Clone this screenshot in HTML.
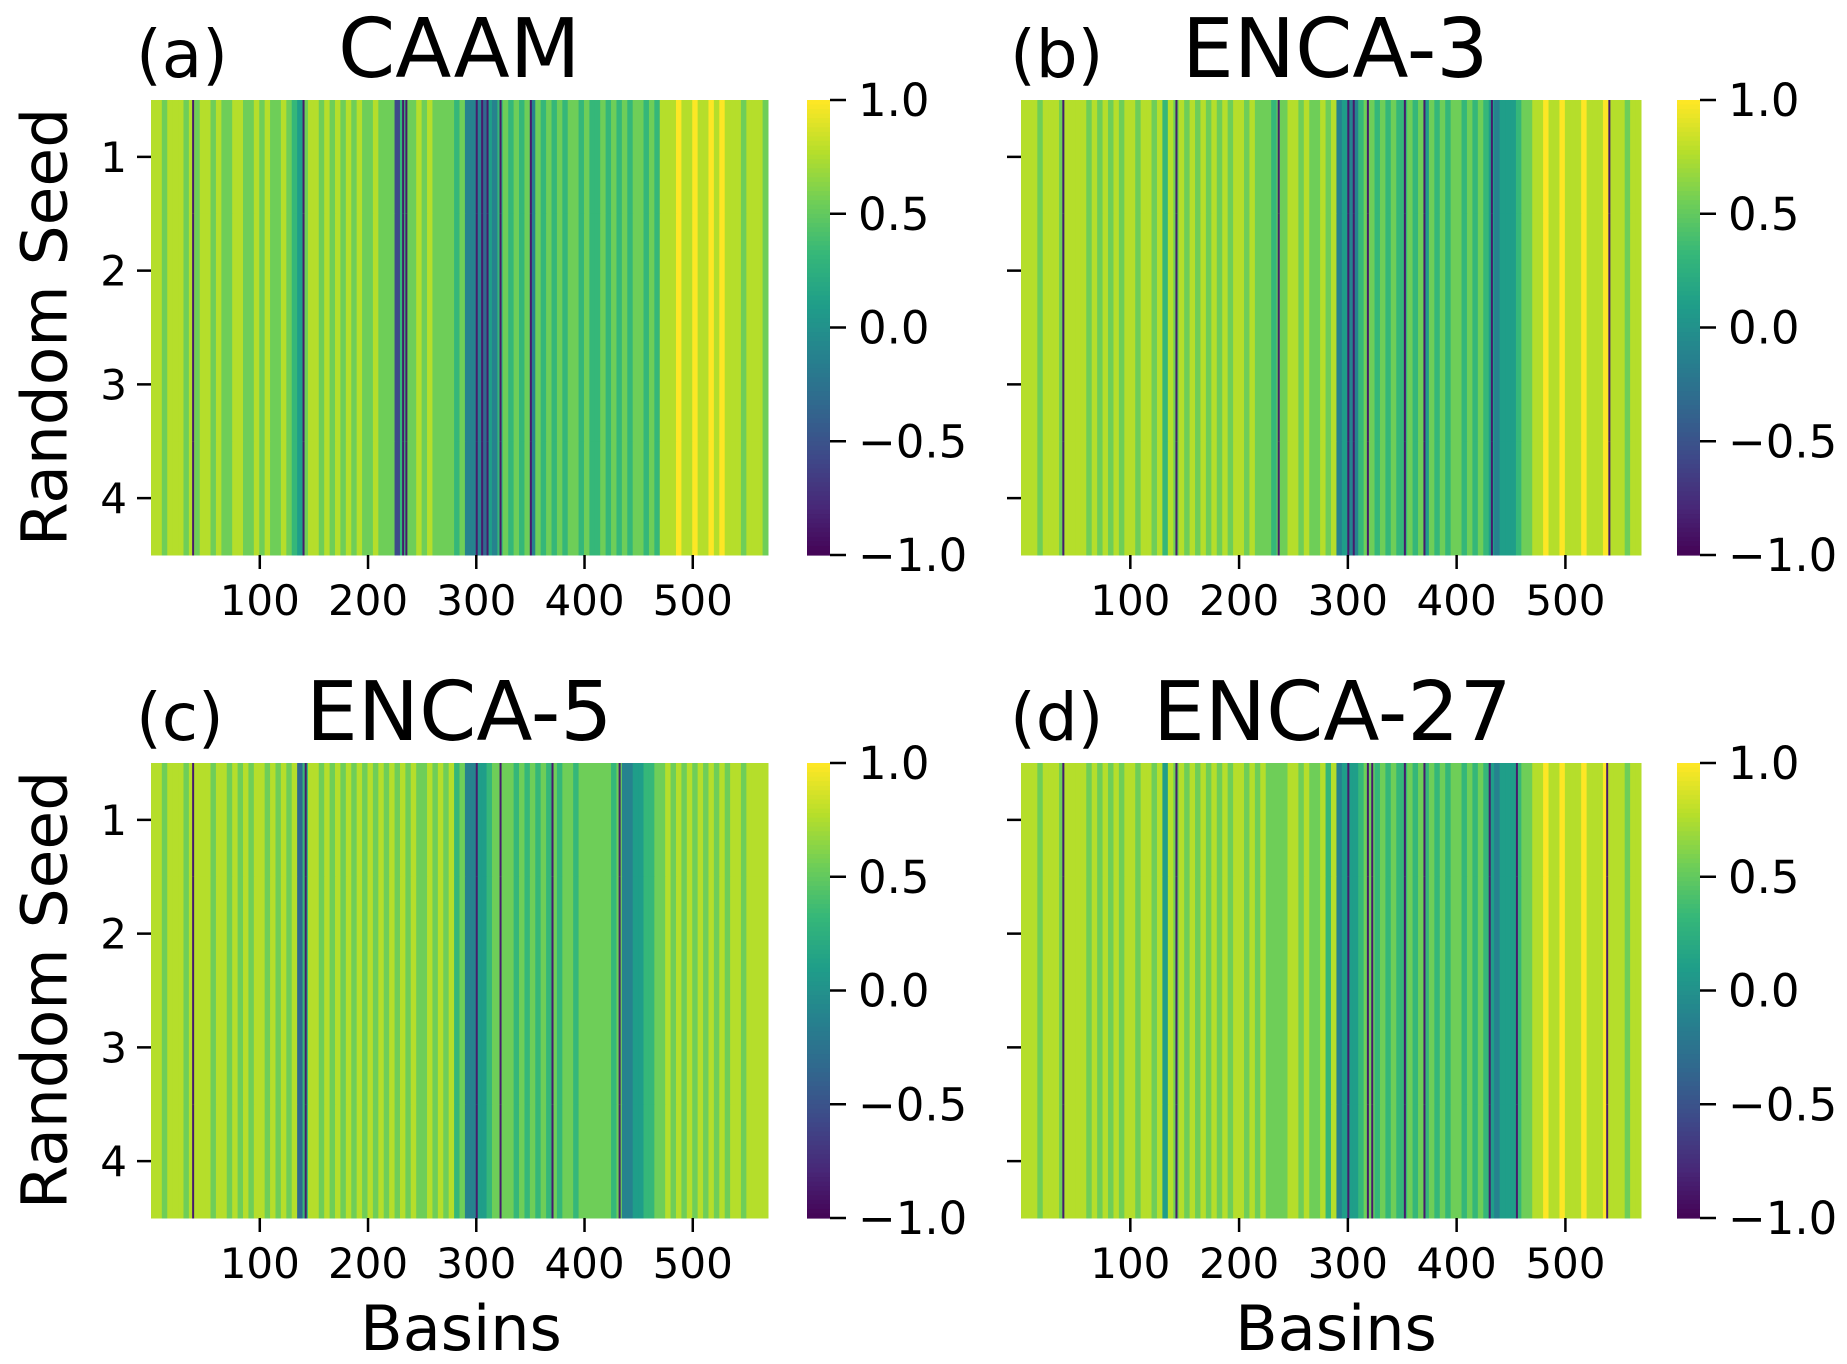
<!DOCTYPE html>
<html><head><meta charset="utf-8"><style>
body{margin:0;background:#fff;}
svg text{font-family:"DejaVu Sans","Liberation Sans",sans-serif;fill:#000;}
</style></head><body>
<svg id="fig" width="1847" height="1359" viewBox="0 0 1847 1359" xmlns="http://www.w3.org/2000/svg"></svg>
<script>
// Data: per panel, values for 5-basin blocks ('0'..'9' maps to -1..1), plus dark line basins
const panelNames = ["(a)","(b)","(c)","(d)"];
const panelTitles = ["CAAM","ENCA-3","ENCA-5","ENCA-27"];
const blockA = "8878887878"+"8787788778"+"7877876578"+"8787878787"+"7877726778"+"78777767"+"444354"+"676767"+"4"+"767676776"+"7667676767"+"7676"+"88898898898988"+"878887";
const blockB = "8887888788"+"8878787878"+"8788786878"+"7878787878"+"8787776778"+"87877878"+"454467"+"767676"+"6"+"767576767"+"7676765455"+"5677"+"88988988898889"+"888788";
const blockC = "8878887888"+"8788787878"+"8787878368"+"8787878787"+"8787878787"+"78787867"+"445567"+"777676"+"7"+"676767767"+"7777767445"+"5667"+"78787878787878"+"878888";
const blockD = "8887888788"+"8878787878"+"8788785878"+"7878787878"+"8787877778"+"87877868"+"455567"+"767676"+"6"+"767676767"+"7676765455"+"5677"+"88988988898889"+"888788";
const darkA = [38,140,232,235,300,305,310,322,350];
const darkB = [38,142,236,300,305,318,352,370,432,540];
const darkC = [38,142,300,322,370,432];
const darkD = [38,142,300,318,322,352,370,430,455,538];
const rows = [1,2,3,4];
const xTicks = [100,200,300,400,500];
const cbTicks = [1.0,0.5,0.0,-0.5,-1.0];
const nBasins = 570;

const blocks=[blockA,blockB,blockC,blockD], darks=[darkA,darkB,darkC,darkD];
const svg=document.getElementById('fig');
const NS="http://www.w3.org/2000/svg";
function el(tag,attrs,parent){const e=document.createElementNS(NS,tag);for(const k in attrs)e.setAttribute(k,attrs[k]);(parent||svg).appendChild(e);return e;}
const V=[[68,1,84],[72,40,120],[62,74,137],[49,104,142],[38,130,142],[31,158,137],[53,183,121],[110,206,88],[181,222,43],[253,231,37]];
function viridis(v){let t=(v+1)/2;t=Math.max(0,Math.min(1,t))*9;const i=Math.min(8,Math.floor(t)),f=t-i;const a=V[i],b=V[i+1];return `rgb(${Math.round(a[0]+(b[0]-a[0])*f)},${Math.round(a[1]+(b[1]-a[1])*f)},${Math.round(a[2]+(b[2]-a[2])*f)})`;}
const panels=[{x0:151,x1:768,y0:100,y1:555,cx:807,lx:136,tx:338,ty:77},
{x0:1021,x1:1641,y0:100,y1:555,cx:1677,lx:1010,tx:1182,ty:77},
{x0:151,x1:768,y0:763,y1:1218,cx:807,lx:136,tx:306,ty:740},
{x0:1021,x1:1641,y0:763,y1:1218,cx:1677,lx:1010,tx:1153,ty:740}];
panels.forEach((P,p)=>{
  const g=el('g',{});
  
  
  const xs=b=>P.x0+b*(P.x1-P.x0)/nBasins;
  const rh=(P.y1-P.y0)/rows.length;
  const ys=r=>P.y0+r*rh;
  const str=blocks[p];
  rows.forEach((row,r)=>{
    for(let i=0;i<str.length;i++){
      const v=+str[i]/9*2-1;
      const c=el('rect',{x:xs(i*5),y:ys(r),width:xs(i*5+5)-xs(i*5)+0.5,height:rh+0.5,fill:viridis(v)},g);
      
      
    }
    darks[p].forEach(b=>{
      const l=el('rect',{x:xs(b),y:ys(r),width:Math.max(2,xs(b+1)-xs(b)),height:rh+0.5,fill:viridis(-0.85)},g);
      
      
    });
  });
  xTicks.forEach(t=>{
    const x=xs(t+0.5);
    el('line',{x1:x,x2:x,y1:P.y1,y2:P.y1+14,stroke:'#000','stroke-width':2.5},g);
    const tl=el('text',{x:x,y:P.y1+60,'font-size':42,'text-anchor':'middle'},g);tl.textContent=t;
    
    
  });
  rows.forEach((row,r)=>{
    const y=ys(r+0.5);
    el('line',{x1:P.x0-14,x2:P.x0,y1:y,y2:y,stroke:'#000','stroke-width':2.5},g);
    if(p%2===0){const tl=el('text',{x:P.x0-24,y:y+15,'font-size':42,'text-anchor':'end'},g);tl.textContent=row;
      
      }
  });
  const cb=el('g',{},g);
  
  
  for(let i=0;i<100;i++){
    const v=1-2*i/100;
    el('rect',{x:P.cx,y:P.y0+i*(P.y1-P.y0)/100,width:23,height:(P.y1-P.y0)/100+0.6,fill:viridis(v)},cb);
  }
  cbTicks.forEach(t=>{
    const y=P.y0+(1-t)/2*(P.y1-P.y0);
    el('line',{x1:P.cx+23,x2:P.cx+39,y1:y,y2:y,stroke:'#000','stroke-width':2.5},cb);
    const tl=el('text',{x:P.cx+51,y:y+16,'font-size':45},cb);
    tl.textContent=(t<0?'\u2212':'')+Math.abs(t).toFixed(1);
    
    
  });
  const pl=el('text',{x:P.lx,y:P.ty,'font-size':66},g);pl.textContent=panelNames[p];
  
  
  const tt=el('text',{x:P.tx,y:P.ty,'font-size':82},g);tt.textContent=panelTitles[p];
  
  
});
[[45,327],[45,990]].forEach(([x,y])=>{
  const t=el('text',{x:x,y:y,'font-size':63,'text-anchor':'middle','dominant-baseline':'central',transform:`rotate(-90 ${x} ${y})`});
  t.textContent='Random Seed';
  
  
});
[[461,1350],[1336,1350]].forEach(([x,y])=>{
  const t=el('text',{x:x,y:y,'font-size':62,'text-anchor':'middle'});
  t.textContent='Basins';
  
  
});
</script>
</body></html>
